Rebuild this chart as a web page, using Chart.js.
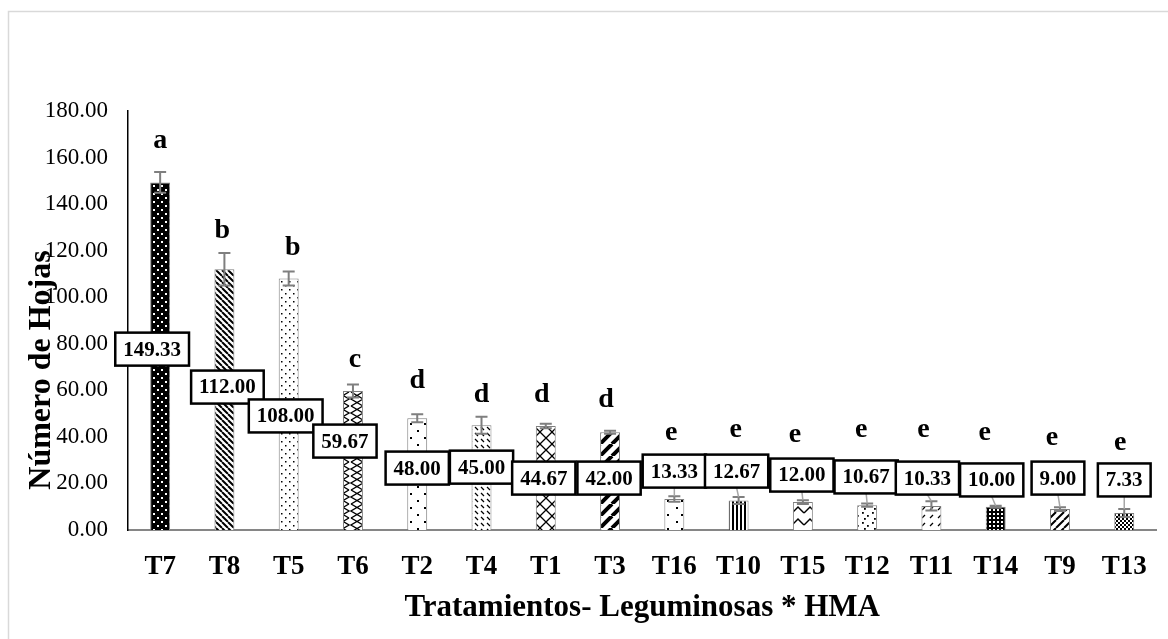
<!DOCTYPE html>
<html>
<head>
<meta charset="utf-8">
<script src="https://cdn.jsdelivr.net/npm/chart.js@4.4.1/dist/chart.umd.min.js"></script>
<style>
  body { margin: 0; background: #fff; }
  canvas { display: block; }
</style>
</head>
<body>
<canvas id="hojas-chart" width="1168" height="639"></canvas>
<script>
// datos: número de hojas por tratamiento
const treatments = ['T7', 'T8', 'T5', 'T6', 'T2', 'T4', 'T1', 'T3', 'T16', 'T10', 'T15', 'T12', 'T11', 'T14', 'T9', 'T13'];
const leafCount = [149.33, 112.00, 108.00, 59.67, 48.00, 45.00, 44.67, 42.00, 13.33, 12.67, 12.00, 10.67, 10.33, 10.00, 9.00, 7.33];
const errorBars = [4.5, 7, 3, 2.8, 1.7, 3.7, 1, 0.6, 1.2, 1.5, 0.8, 0.7, 2, 0.4, 0.8, 1.7];
const groupLetters = ['a', 'b', 'b', 'c', 'd', 'd', 'd', 'd', 'e', 'e', 'e', 'e', 'e', 'e', 'e', 'e'];
const yTicks = [0, 20, 40, 60, 80, 100, 120, 140, 160, 180];

// posición de las etiquetas (en unidades del eje y) y desplazamientos en px
const boxAt = [77.7, 61.4, 49.0, 38.2, 26.6, 27.0, 22.3, 22.3, 25.3, 25.3, 23.6, 22.8, 22.3, 21.5, 22.3, 21.5];
const boxShift = [-8, 3, -3, -8, 0, 0, -2, -1, 0, -2, -1, -1, -4, -4, -2, 0];
const letterAt = [164.1, 125.4, 118.1, 70.0, 61.0, 55.0, 55.0, 52.8, 38.7, 39.9, 37.8, 39.9, 39.9, 38.7, 36.5, 34.4];
const letterShift = [0, -2, 4, 2, 0, 0, -4, -4, -3, -3, -8, -6, -8, -11, -8, -4];

const FONT = '"Liberation Serif", "Times New Roman", serif';
const canvas = document.getElementById('hojas-chart');
const ctx = canvas.getContext('2d');

// tramas de relleno estilo Excel
function tile(size, bg, draw) {
    const c = document.createElement('canvas');
    c.width = size;
    c.height = size;
    const g = c.getContext('2d');
    g.fillStyle = bg;
    g.fillRect(0, 0, size, size);
    g.fillStyle = '#000';
    g.strokeStyle = '#000';
    draw(g, size);
    return ctx.createPattern(c, 'repeat');
}
function diag(g, s, up, w) {
    g.lineWidth = w;
    g.beginPath();
    for (let k = -1; k <= 1; k++) {
        if (up) { g.moveTo(k * s, s); g.lineTo(k * s + s, 0); }
        else { g.moveTo(k * s, 0); g.lineTo(k * s + s, s); }
    }
    g.stroke();
}
function dots(g, pts, d) {
    pts.forEach(p => g.fillRect(p[0], p[1], d, d));
}

const fills = [
    tile(8, '#000', g => { g.fillStyle = '#fff'; dots(g, [[1, 1], [5, 5]], 2); }),          // T7
    tile(6, '#fff', (g, s) => diag(g, s, false, 2)),                                        // T8
    tile(8, '#fff', g => dots(g, [[1, 1], [5, 5]], 1.5)),                                   // T5
    tile(14, '#fff', g => {                                                                  // T6
        g.lineWidth = 1.3; g.beginPath();
        g.moveTo(1, 0); g.lineTo(13, 7); g.lineTo(1, 14);
        g.moveTo(13, 0); g.lineTo(1, 7); g.lineTo(13, 14);
        g.stroke();
    }),
    tile(14, '#fff', g => dots(g, [[4, 3], [11, 10]], 2)),                                  // T2
    tile(6, '#fff', g => { g.lineWidth = 1.2; g.beginPath(); g.moveTo(1, 1); g.lineTo(4, 4); g.stroke(); }), // T4
    tile(12, '#fff', g => {                                                                  // T1
        g.lineWidth = 1.3; g.beginPath();
        g.moveTo(0, 0); g.lineTo(12, 12); g.moveTo(12, 0); g.lineTo(0, 12);
        g.stroke();
    }),
    tile(12, '#fff', (g, s) => diag(g, s, true, 4)),                                        // T3
    tile(14, '#fff', g => dots(g, [[4, 3], [9, 10]], 2)),                                   // T16
    tile(4, '#fff', g => g.fillRect(0, 0, 2, 4)),                                           // T10
    tile(12, '#fff', g => {                                                                  // T15
        g.lineWidth = 1.5; g.beginPath();
        g.moveTo(0, 9); g.lineTo(6, 3); g.lineTo(12, 9);
        g.stroke();
    }),
    tile(10, '#fff', g => dots(g, [[2, 2], [7, 5], [4, 8]], 1.8)),                          // T12
    tile(8, '#fff', g => { g.lineWidth = 1.2; g.beginPath(); g.moveTo(2, 6); g.lineTo(5, 3); g.stroke(); }), // T11
    tile(4, '#000', g => { g.fillStyle = '#fff'; g.fillRect(1, 1, 2, 2); }),                 // T14
    tile(8, '#fff', (g, s) => diag(g, s, true, 2)),                                         // T9
    tile(4, '#fff', g => dots(g, [[0, 0], [2, 2]], 2))                                      // T13
];

// anotaciones: barras de error, etiquetas, letras y título del eje y
const annotations = {
    id: 'annotations',
    beforeDraw(chart) {
        const c = chart.ctx;
        c.save();
        c.strokeStyle = '#d9d9d9';
        c.lineWidth = 1.5;
        c.strokeRect(8.5, 11.5, 1300, 700);
        c.restore();
    },
    afterDatasetsDraw(chart) {
        const c = chart.ctx;
        const x = chart.scales.x;
        const y = chart.scales.y;
        c.save();

        // barras de error
        c.strokeStyle = '#7f7f7f';
        c.lineWidth = 2;
        leafCount.forEach((v, i) => {
            const cx = x.getPixelForValue(i);
            const top = y.getPixelForValue(v + errorBars[i]);
            const bot = y.getPixelForValue(v - errorBars[i]);
            c.beginPath();
            c.moveTo(cx, top); c.lineTo(cx, bot);
            c.moveTo(cx - 6, top); c.lineTo(cx + 6, top);
            c.moveTo(cx - 6, bot); c.lineTo(cx + 6, bot);
            c.stroke();
        });

        // líneas guía y cajas de valores
        c.font = 'bold 21px ' + FONT;
        c.textAlign = 'center';
        c.textBaseline = 'middle';
        leafCount.forEach((v, i) => {
            const cx = x.getPixelForValue(i);
            const bx = cx + boxShift[i];
            const by = y.getPixelForValue(boxAt[i]);
            const h = 33;
            const label = v.toFixed(2);
            const w = c.measureText(label).width + 16;
            const barTop = y.getPixelForValue(v + errorBars[i]);
            if (by + h / 2 < barTop) {
                c.strokeStyle = '#a6a6a6';
                c.lineWidth = 1.5;
                c.beginPath();
                c.moveTo(bx, by + h / 2);
                c.lineTo(cx, barTop);
                c.stroke();
            }
            c.fillStyle = '#fff';
            c.fillRect(bx - w / 2, by - h / 2, w, h);
            c.strokeStyle = '#000';
            c.lineWidth = 2.5;
            c.strokeRect(bx - w / 2, by - h / 2, w, h);
            c.fillStyle = '#000';
            c.fillText(label, bx, by + 1);
        });

        // letras de significancia
        c.font = 'bold 28px ' + FONT;
        c.textBaseline = 'alphabetic';
        groupLetters.forEach((l, i) => {
            c.fillText(l, x.getPixelForValue(i) + letterShift[i], y.getPixelForValue(letterAt[i]));
        });

        // título del eje y
        c.translate(50, 370);
        c.rotate(-Math.PI / 2);
        c.font = 'bold 32px ' + FONT;
        c.fillText('Número de Hojas', 0, 0);
        c.restore();
    }
};

window.hojasChart = new Chart(ctx, {
    type: 'bar',
    data: {
        labels: treatments,
        datasets: [{
            data: leafCount,
            backgroundColor: fills,
            borderColor: '#7f7f7f',
            borderWidth: 1,
            barPercentage: 0.31,
            categoryPercentage: 1
        }]
    },
    options: {
        responsive: false,
        animation: false,
        layout: { padding: { top: 111, right: 8, left: 0, bottom: 0 } },
        scales: {
            x: {
                grid: { display: false, drawTicks: false },
                border: { color: '#868686', width: 2 },
                ticks: {
                    autoSkip: false,
                    maxRotation: 0,
                    padding: 21,
                    color: '#000',
                    font: { family: FONT, size: 27, weight: 'bold' }
                },
                title: {
                    display: true,
                    text: 'Tratamientos- Leguminosas * HMA',
                    color: '#000',
                    padding: { top: 0, bottom: 12 },
                    font: { family: FONT, size: 31, weight: 'bold' }
                },
                afterFit: scale => { scale.height = 109; }
            },
            y: {
                min: 0,
                max: 180,
                afterBuildTicks: scale => { scale.ticks = yTicks.map(v => ({ value: v })); },
                grid: { display: false, drawTicks: false },
                border: { color: '#000', width: 1.5 },
                ticks: {
                    padding: 20,
                    color: '#000',
                    font: { family: FONT, size: 23 },
                    callback: v => v.toFixed(2)
                },
                afterFit: scale => { scale.width = 128; }
            }
        },
        plugins: {
            legend: { display: false },
            tooltip: { enabled: false }
        }
    },
    plugins: [annotations]
});
</script>
</body>
</html>
